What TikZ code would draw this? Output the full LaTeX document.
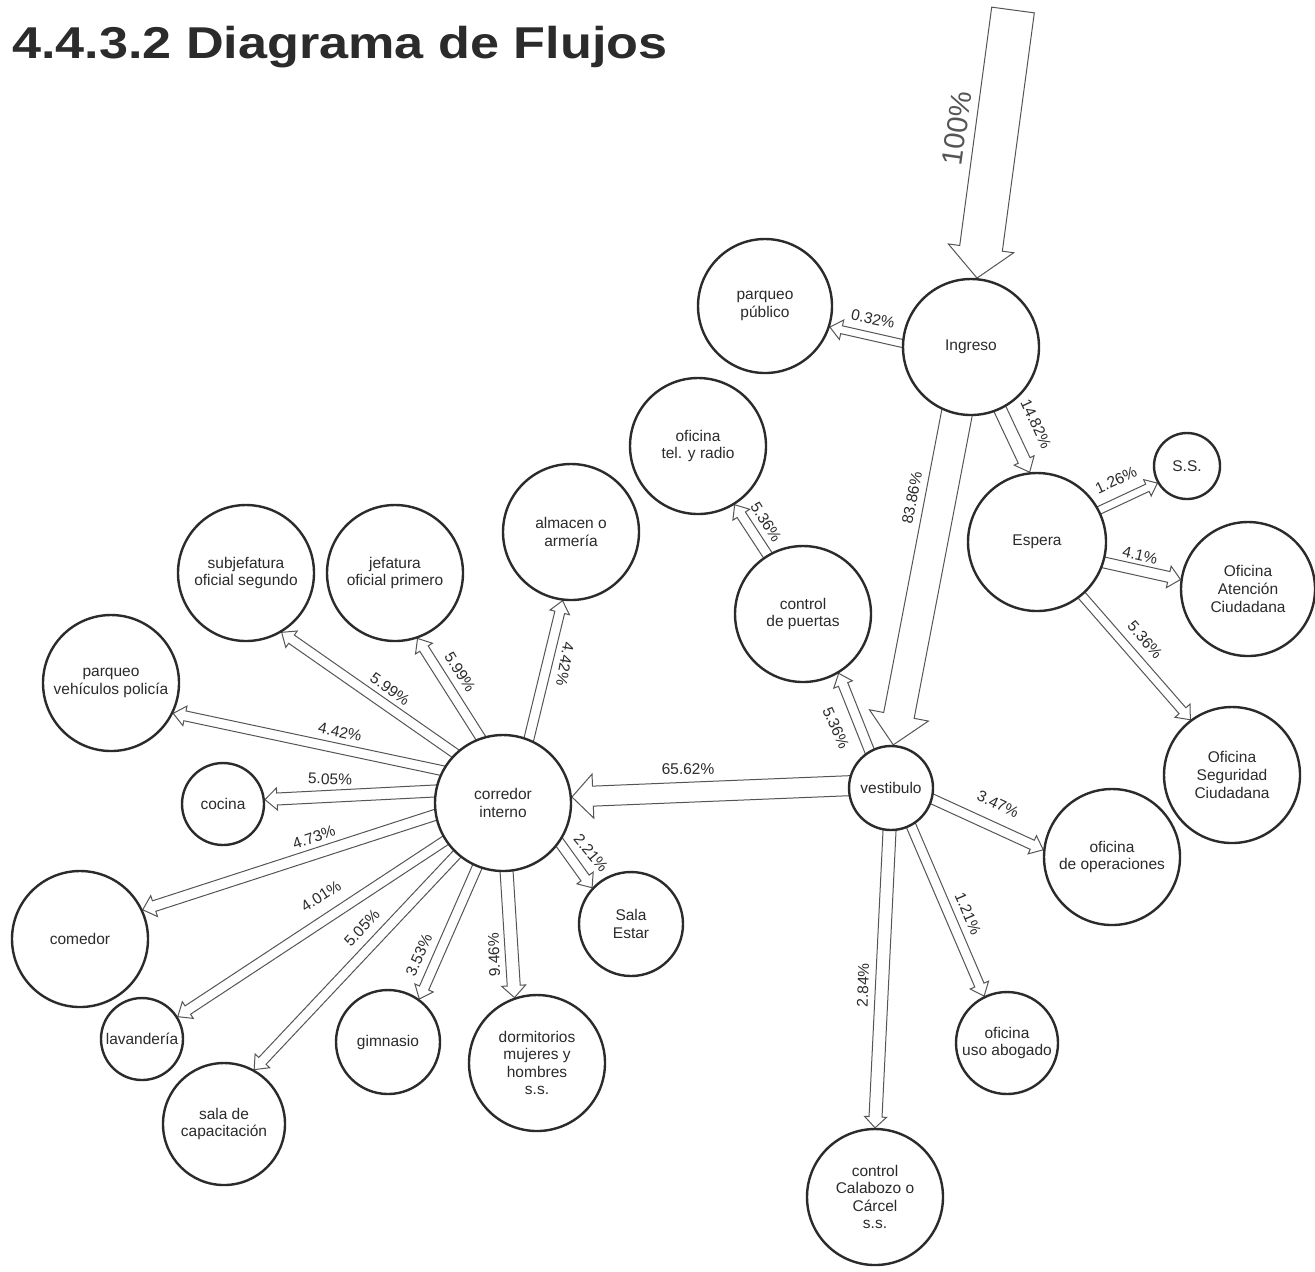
\documentclass[tikz,border=0pt]{standalone}
\usepackage{fontspec}
\usepackage{graphicx}
\setmainfont{Liberation Sans}
\usetikzlibrary{calc, backgrounds}

\definecolor{ink}{HTML}{2B2B2B}
\definecolor{edge}{HTML}{555555}
\newcommand{\nodefont}{\fontsize{7.75}{8.8}\selectfont}
% hollow block arrow: [pull back] {from} {to} {shaft half} {head half} {head length}, in px
\newcommand{\flow}[6][8]{%
  \coordinate (fs) at ($(#2)!-#1*0.5pt!(#3)$);
  \coordinate (ft) at (#3);
  \coordinate (fh) at ($(ft)!#6*0.5pt!(fs)$);
  \draw[flowline] ($(fs)!#4*0.5pt!90:(ft)$) -- ($(fh)!#4*0.5pt!90:(ft)$) -- ($(fh)!#5*0.5pt!90:(ft)$)
    -- (ft) -- ($(fh)!#5*0.5pt!-90:(ft)$) -- ($(fh)!#4*0.5pt!-90:(ft)$) -- ($(fs)!#4*0.5pt!-90:(ft)$) -- cycle;}

\begin{document}
\begin{tikzpicture}[x=0.5pt, y=-0.5pt,
  spot/.style={circle, draw=ink, line width=1.2pt, fill=white, inner sep=0pt, align=center, font=\nodefont, text=ink},
  rad/.style={minimum size=#1pt},
  pct/.style={font=\nodefont, text=ink, inner sep=0pt},
  flowline/.style={draw=edge, line width=0.5pt, fill=white, line join=miter}]

\useasboundingbox (0,0) rectangle (1315,1271);

\node[anchor=base west, text=ink, font=\bfseries\fontsize{22.3}{26}\selectfont] (title) at (5,58) {\scalebox{1.17}[1]{4.4.3.2 Diagrama de Flujos}};

% rooms
\node[spot, rad=68] (ing) at (971,347) {Ingreso};
\node[spot, rad=67] (pp) at (765,306) {parqueo\\público};
\node[spot, rad=68] (tel) at (698,446) {oficina\\tel. y radio};
\node[spot, rad=69] (esp) at (1037,542) {Espera};
\node[spot, rad=33] (ss) at (1187,466) {S.S.};
\node[spot, rad=67] (oac) at (1248,589) {Oficina\\Atención\\Ciudadana};
\node[spot, rad=68] (osc) at (1232,775) {Oficina\\Seguridad\\Ciudadana};
\node[spot, rad=68] (ope) at (1112,857) {oficina\\de operaciones};
\node[spot, rad=42] (ves) at (891,788) {vestibulo};
\node[spot, rad=51] (abo) at (1007,1043) {oficina\\uso abogado};
\node[spot, rad=68] (cal) at (875,1197) {control\\Calabozo o\\Cárcel\\s.s.};
\node[spot, rad=68] (pue) at (803,614) {control\\de puertas};
\node[spot, rad=68] (alm) at (571,532) {almacen o\\armería};
\node[spot, rad=68] (jef) at (395,573) {jefatura\\oficial primero};
\node[spot, rad=68] (sub) at (246,573) {subjefatura\\oficial segundo};
\node[spot, rad=68] (pvp) at (111,683) {parqueo\\vehículos policía};
\node[spot, rad=41] (coc) at (223,804) {cocina};
\node[spot, rad=68] (cor) at (503,803) {corredor\\interno};
\node[spot, rad=68] (com) at (80,939) {comedor};
\node[spot, rad=52] (sal) at (631,924) {Sala\\Estar};
\node[spot, rad=41] (lav) at (142,1039) {lavandería};
\node[spot, rad=61] (cap) at (224,1124) {sala de\\capacitación};
\node[spot, rad=52] (gim) at (388,1042) {gimnasio};
\node[spot, rad=68] (dor) at (537,1063) {dormitorios\\mujeres y\\hombres\\s.s.};

% flows, behind the rooms
\begin{scope}[on background layer]
\fill[white] (0,0) rectangle (1315,1271);
\coordinate (src) at (1013,10);
\flow[0]{src}{ing.85}{21.5}{33}{30}
\flow{ing.177}{pp.342}{4}{10}{12}
\flow{ing.295}{esp.96}{6.5}{11}{13}
\flow{ing.258}{ves.87}{15.5}{30}{30}
\flow{ves.120}{pue.301}{5}{10}{12}
\flow{pue.121}{tel.302}{5}{10}{12}
\flow{esp.27}{ss.210}{4}{9}{11}
\flow{esp.343}{oac.172}{5.5}{11}{12}
\flow{esp.310}{osc.127}{4.5}{10}{12}
\flow{ves.345}{ope.174}{5}{10}{12}
\flow{ves.298}{abo.116}{5}{10}{12}
\flow{ves.268}{cal.90}{6.5}{11}{11}
\flow{ves.177}{cor.5}{10}{22}{21}
\flow{cor.68}{alm.263}{5}{10}{12}
\flow{cor.109}{jef.289}{5}{10}{12}
\flow{cor.134}{sub.301}{5}{10}{12}
\flow{cor.152}{pvp.334}{5}{10}{12}
\flow{cor.170}{coc.6}{6}{11}{12}
\flow{cor.190}{com.25}{5.5}{11}{12}
\flow{cor.213}{lav.32}{5}{10}{12}
\flow{cor.228}{cap.61}{5}{10}{12}
\flow{cor.248}{gim.54}{5}{10}{12}
\flow{cor.273}{dor.109}{6.5}{12}{12}
\flow{cor.325}{sal.137}{5}{10}{12}
\end{scope}

% percentages
\node[pct, rotate=82, text=edge, font=\fontsize{14.5}{16}\selectfont] (p0) at (957,128) {100\%};
\node[pct, rotate=-12] (p1) at (873,319) {0.32\%};
\node[pct, rotate=-65] (p2) at (1036,424) {14.82\%};
\node[pct, rotate=79] (p3) at (912,498) {83.86\%};
\node[pct, rotate=-66] (p4) at (836,728) {5.36\%};
\node[pct, rotate=-58] (p5) at (766,522) {5.36\%};
\node[pct, rotate=25] (p6) at (1116,480) {1.26\%};
\node[pct, rotate=-13] (p7) at (1140,555) {4.1\%};
\node[pct, rotate=-49] (p8) at (1145,640) {5.36\%};
\node[pct, rotate=-25] (p9) at (998,804) {3.47\%};
\node[pct, rotate=-67] (p10) at (968,914) {1.21\%};
\node[pct, rotate=88] (p11) at (863,985) {2.84\%};
\node[pct, rotate=1] (p12) at (688,769) {65.62\%};
\node[pct, rotate=-100] (p13) at (565,664) {4.42\%};
\node[pct, rotate=-58] (p14) at (460,672) {5.99\%};
\node[pct, rotate=-35] (p15) at (390,689) {5.99\%};
\node[pct, rotate=-12] (p16) at (340,732) {4.42\%};
\node[pct, rotate=-2] (p17) at (330,779) {5.05\%};
\node[pct, rotate=19] (p18) at (314,837) {4.73\%};
\node[pct, rotate=33] (p19) at (321,896) {4.01\%};
\node[pct, rotate=47] (p20) at (362,928) {5.05\%};
\node[pct, rotate=66] (p21) at (419,955) {3.53\%};
\node[pct, rotate=92] (p22) at (494,955) {9.46\%};
\node[pct, rotate=-50] (p23) at (591,853) {2.21\%};

\end{tikzpicture}
\end{document}
